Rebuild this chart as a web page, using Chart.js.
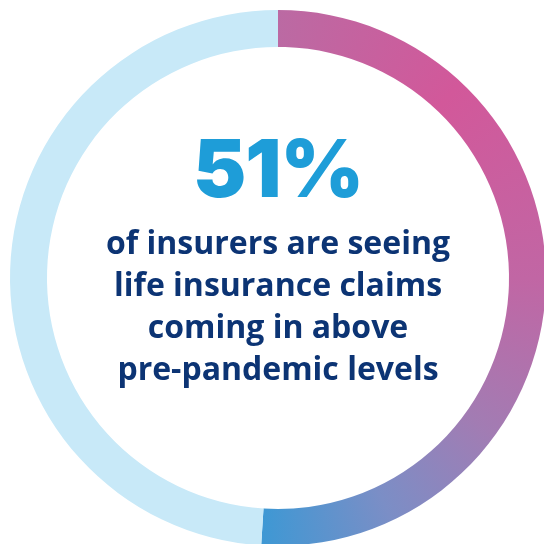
<!DOCTYPE html>
<html>
<head>
<meta charset="utf-8">
<script src="https://cdn.jsdelivr.net/npm/chart.js@4.4.1/dist/chart.umd.min.js"></script>
<style>
  html, body { margin: 0; padding: 0; background: #ffffff; overflow: hidden; }
  #wrap { position: absolute; left: 0; top: 0; width: 556px; height: 556px; }
  .big {
    position: absolute; left: 0; width: 556px; top: 128px;
    text-align: center; font-family: "Inter", sans-serif; font-weight: 900;
    font-size: 80px; line-height: 80px; color: #1e9dd8; letter-spacing: -1px;
  }
  .sub {
    position: absolute; left: 0; width: 556px; top: 221px;
    text-align: center; font-family: "Open Sans", sans-serif; font-weight: 700;
    font-size: 32px; line-height: 42px; color: #0c3474;
  }
</style>
</head>
<body>
<div id="wrap"><canvas id="ring"></canvas></div>
<div class="big" id="pct"></div>
<div class="sub" id="caption"></div>
<script>
// data
const labels = ["Seeing claims above pre-pandemic levels", "Not seeing"];
const values = [51, 49];
const captionLines = [
  "of insurers are seeing",
  "life insurance claims",
  "coming in above",
  "pre-pandemic levels"
];

const restColor = "#c8e9f8";

document.getElementById("pct").textContent = values[0] + "%";
document.getElementById("caption").innerHTML = captionLines.join("<br>");

// pink -> purple -> blue going round the ring
function ringGradient(chart) {
  const area = chart.chartArea;
  if (!area) return "#c2649f";
  const ctx = chart.ctx;
  const cx = (area.left + area.right) / 2;
  const cy = (area.top + area.bottom) / 2;
  const g = ctx.createConicGradient(-Math.PI / 2, cx, cy);
  g.addColorStop(0, "#bb6aa3");
  g.addColorStop(0.12, "#d2589a");
  g.addColorStop(0.25, "#c166a4");
  g.addColorStop(0.35, "#a27cb3");
  g.addColorStop(0.43, "#7b8ec6");
  g.addColorStop(0.51, "#3e98d4");
  g.addColorStop(1, "#3e98d4");
  return g;
}

const chart = new Chart(document.getElementById("ring"), {
  type: "doughnut",
  data: {
    labels: labels,
    datasets: [
      {
        data: values,
        backgroundColor: (c) => (c.dataIndex === 0 ? ringGradient(c.chart) : restColor),
        borderWidth: 0,
        hoverOffset: 0
      }
    ]
  },
  options: {
    responsive: true,
    maintainAspectRatio: false,
    animation: false,
    cutout: "86.2%",
    rotation: 0,
    layout: { padding: 10 },
    plugins: {
      legend: { display: false },
      tooltip: { enabled: false }
    }
  }
});
</script>
</body>
</html>
